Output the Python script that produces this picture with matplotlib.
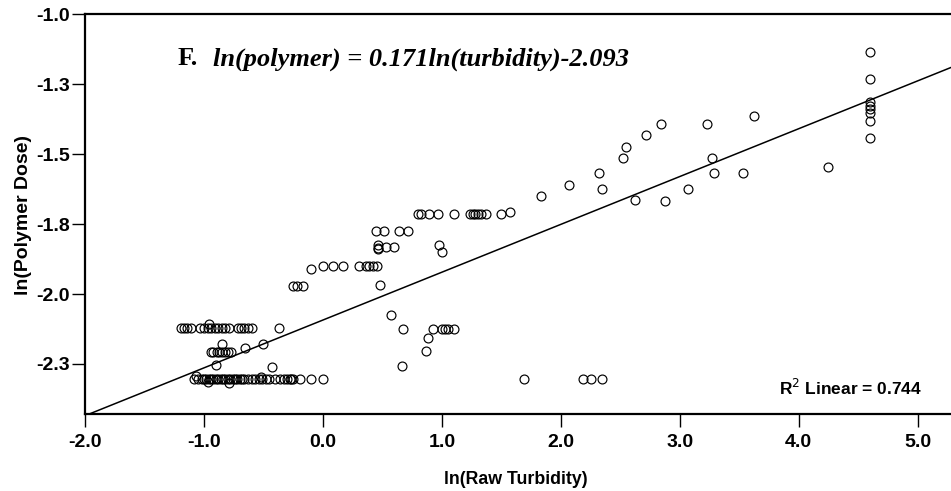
import matplotlib
matplotlib.use("Agg")
import matplotlib.pyplot as plt
import numpy as np

# ln(Raw Turbidity) / ln(Polymer Dose) readings, grouped by band
row_a_x = [-1.19, -1.17, -1.14, -1.11, -1.03, -1.0, -0.97, -0.94, -0.91, -0.88,
           -0.85, -0.82, -0.79, -0.71, -0.69, -0.66, -0.63, -0.60, -0.37]
row_a_y = -2.12

row_b_x = [-0.94, -0.92, -0.89, -0.87, -0.85, -0.82, -0.80, -0.77]
row_b_y = -2.207

row_c_x = [-1.08, -1.05, -1.02, -1.0, -0.98, -0.96, -0.94, -0.92, -0.90, -0.88,
           -0.86, -0.84, -0.82, -0.80, -0.78, -0.76, -0.74, -0.72, -0.70, -0.68,
           -0.66, -0.63, -0.60, -0.57, -0.54, -0.51, -0.48, -0.45, -0.40, -0.36,
           -0.33, -0.30, -0.28, -0.27, -0.25, -0.19, -0.10, 0.0, 1.69, 2.19, 2.25, 2.345]
row_c_y = -2.303

other_x = [-0.96, -0.85, -0.655, -0.50, -0.90, -0.43, -1.07, -0.97, -0.79, -0.52,
           -0.10, 0.0, 0.087, 0.166, 0.303, 0.359, 0.387, 0.423, 0.451,
           0.46, 0.46, 0.46, 0.529, 0.597,
           0.445, 0.515, 0.641, 0.717,
           0.801, 0.824, 0.894, 0.969, 1.101, 1.235, 1.258, 1.277, 1.30, 1.333, 1.367, 1.496, 1.571,
           0.975, 1.003, 0.479, 0.571, 0.67, 0.666, -0.25, -0.221, -0.166,
           0.927, 1.003, 1.025, 1.048, 1.103, 0.880, 0.863,
           1.83, 2.07, 2.319, 2.35, 2.524, 2.546, 2.622, 2.72, 2.838, 2.877,
           3.073, 3.227, 3.275, 3.288, 3.535, 3.625, 4.249,
           4.602, 4.602, 4.602, 4.602, 4.602, 4.602, 4.602, 4.602]
other_y = [-2.106, -2.178, -2.193, -2.178, -2.254, -2.262, -2.292, -2.315, -2.317, -2.297,
           -1.91, -1.90, -1.90, -1.90, -1.90, -1.90, -1.90, -1.90, -1.90,
           -1.825, -1.834, -1.84, -1.833, -1.833,
           -1.776, -1.776, -1.776, -1.776,
           -1.715, -1.715, -1.715, -1.715, -1.715, -1.715, -1.715, -1.715, -1.715, -1.715, -1.715, -1.715, -1.707,
           -1.824, -1.851, -1.968, -2.074, -2.125, -2.259, -1.970, -1.970, -1.970,
           -2.125, -2.125, -2.125, -2.125, -2.125, -2.159, -2.204,
           -1.648, -1.612, -1.568, -1.625, -1.514, -1.474, -1.664, -1.432, -1.392, -1.668,
           -1.623, -1.392, -1.513, -1.566, -1.566, -1.363, -1.545,
           -1.136, -1.231, -1.312, -1.328, -1.338, -1.354, -1.380, -1.444]

slope = 0.171
intercept = -2.093
r2 = 0.744

yticks = [-1.0, -1.25, -1.5, -1.75, -2.0, -2.25]
ytick_labels = ['-1.0', '-1.3', '-1.5', '-1.8', '-2.0', '-2.3']
xticks = [-2.0, -1.0, 0.0, 1.0, 2.0, 3.0, 4.0, 5.0]

xs = np.array(row_a_x + row_b_x + row_c_x + other_x)
ys = np.array([row_a_y] * len(row_a_x) + [row_b_y] * len(row_b_x)
              + [row_c_y] * len(row_c_x) + other_y)

plt.rcParams['font.family'] = ['Liberation Sans', 'DejaVu Sans']

fig = plt.figure(figsize=(9.51, 4.91), dpi=100)
ax = fig.add_axes([0.0894, 0.1562, 0.9106, 0.8147])

ax.plot(xs, ys, linestyle='none', marker='o', markersize=6.4,
        markerfacecolor='none', markeredgecolor='black', markeredgewidth=0.85)

xmin, xmax = -2.0, 5.28
lx = np.array([xmin, xmax])
ax.plot(lx, slope * lx + intercept, color='black', linewidth=1.1)

ax.set_xlim(xmin, xmax)
ax.set_ylim(-2.43, -1.0)
ax.set_xticks(xticks)
ax.set_xticklabels([f'{t:.1f}' for t in xticks])
ax.set_yticks(yticks)
ax.set_yticklabels(ytick_labels)

for s in ['left', 'bottom', 'top']:
    ax.spines[s].set_linewidth(1.6)
ax.spines['right'].set_visible(False)
ax.tick_params(direction='out', length=9.4, width=1.0, labelsize=14)
ax.tick_params(axis='x', pad=5)
ax.tick_params(axis='y', pad=1.5)
for lab in ax.get_xticklabels() + ax.get_yticklabels():
    lab.set_fontweight('bold')

ax.set_xlabel('ln(Raw Turbidity)', fontsize=12.8, fontweight='bold')
ax.set_ylabel('ln(Polymer Dose)', fontsize=14, fontweight='bold')
ax.xaxis.set_label_coords(0.498, -0.142)
ax.yaxis.set_label_coords(-0.061, 0.498)

ax.text(0.1074, 0.873, 'F.', transform=ax.transAxes, fontsize=19,
        fontweight='bold', family='Liberation Serif', va='baseline')
ax.text(0.1478, 0.873, 'ln(polymer) = 0.171ln(turbidity)-2.093', transform=ax.transAxes,
        fontsize=19, fontweight='bold', style='italic', family='Liberation Serif',
        va='baseline')

ax.text(0.9665, 0.066, 'R$^2$ Linear = 0.744', transform=ax.transAxes, fontsize=12.5,
        fontweight='bold', ha='right', va='center')

fig.savefig('out.png', dpi=100)
